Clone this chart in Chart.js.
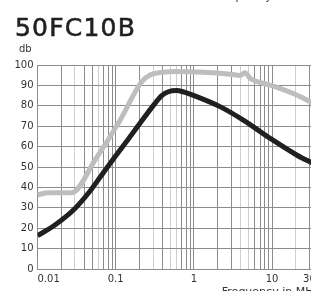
<!DOCTYPE html>
<html>
<head>
<meta charset="utf-8">
<script src="https://cdn.jsdelivr.net/npm/chart.js@4/dist/chart.umd.min.js"></script>
<style>
  html, body { margin: 0; padding: 0; background: #fff; }
  #wrap { position: relative; width: 311px; height: 291px; overflow: hidden; background: #fff; }
  #c { position: absolute; left: 0; top: 0; }
  .txt { position: absolute; font-family: "DejaVu Sans", sans-serif; color: #231f20; white-space: nowrap; }
  #title { left: 15px; top: 15px; font-size: 25px; line-height: 25px; letter-spacing: 1.2px; -webkit-text-stroke: 0.6px #231f20; }
  #unit { left: 19px; top: 44px; font-size: 10px; line-height: 10px; color: #333; }
  #prev { left: 215px; top: -9px; font-size: 11px; line-height: 11px; color: #333; }
</style>
</head>
<body>
<div id="wrap">
  <canvas id="c" width="330" height="300"></canvas>
  <div class="txt" id="prev">Frequency in MHz</div>
  <div class="txt" id="title">50FC10B</div>
  <div class="txt" id="unit">db</div>
</div>
<script>
// ---- data ----
const freqBlack = [0.01, 0.0167, 0.0302, 0.0446, 0.0662, 0.098, 0.1765, 0.318, 0.387, 0.471, 0.60, 0.75, 1.086, 2.157, 4.28, 9.40, 20.6, 33];
const valBlack  = [16.3, 21.6, 29.7, 37.1, 46.1, 55.0, 68.1, 81.2, 85.0, 86.9, 87.5, 86.7, 84.5, 79.6, 73.0, 64.1, 55.9, 51.8];

const freqGray = [0.01, 0.0138, 0.0274, 0.0543, 0.108, 0.2147, 0.275, 0.47, 0.60, 1.32, 3.5, 3.89, 4.50, 5.22, 9.4, 20.6, 33];
const valGray  = [36.3, 37.4, 37.4, 53.4, 71.4, 91.8, 95.1, 96.7, 96.8, 96.4, 95.1, 94.8, 96.2, 93.5, 90.2, 85.3, 81.4];

const xTickValues = [0.01,0.02,0.03,0.04,0.05,0.06,0.07,0.08,0.09,
                     0.1,0.2,0.3,0.4,0.5,0.6,0.7,0.8,0.9,
                     1,2,3,4,5,6,7,8,9,
                     10,20,30,40];
const xLabelValues = [0.01, 0.1, 1, 10, 30];
const xLabelTexts  = ['0.01', '0.1', '1', '10', '30'];
const yTickStep = 10;

// ---- styles ----
const lightGrid = [0.03, 0.06, 0.3, 0.5, 0.6, 4, 5, 20];
const FONT = '"DejaVu Sans", sans-serif';
const near = (a, b) => Math.abs(a - b) / Math.abs(b) < 1e-6;

new Chart(document.getElementById('c'), {
  type: 'line',
  data: {
    datasets: [
      {
        data: freqBlack.map((f, i) => ({ x: f, y: valBlack[i] })),
        borderColor: '#231f20', borderWidth: 5, pointRadius: 0,
        cubicInterpolationMode: 'monotone', fill: false, borderCapStyle: 'butt'
      },
      {
        data: freqGray.map((f, i) => ({ x: f, y: valGray[i] })),
        borderColor: '#bcbec0', borderWidth: 5, pointRadius: 0,
        cubicInterpolationMode: 'monotone', fill: false, borderCapStyle: 'butt'
      }
    ]
  },
  options: {
    responsive: false,
    devicePixelRatio: 1,
    animation: false,
    layout: { padding: { top: 65, left: 0, right: 10.8, bottom: 0 } },
    plugins: { legend: { display: false }, tooltip: { enabled: false } },
    scales: {
      x: {
        type: 'logarithmic',
        min: 0.01, max: 40,
        afterBuildTicks: s => { s.ticks = xTickValues.map(v => ({ value: v })); },
        afterFit: s => { s.height = 31; },
        ticks: {
          autoSkip: false, maxRotation: 0, minRotation: 0, align: 'inner', padding: 4,
          color: '#333', font: { family: FONT, size: 10 },
          callback: (v) => {
            const k = xLabelValues.findIndex(m => near(v, m));
            return k >= 0 ? xLabelTexts[k] : '';
          }
        },
        grid: {
          drawTicks: false,
          color: ctx => (ctx.tick && lightGrid.some(m => near(ctx.tick.value, m))) ? '#cfcfcf' : '#8c8c8c',
          lineWidth: 1
        },
        border: { color: '#8c8c8c' },
        title: {
          display: true, text: 'Frequency in MHz', align: 'end', color: '#333',
          font: { family: FONT, size: 11 }, padding: { top: 0, bottom: 1 }
        }
      },
      y: {
        min: 0, max: 100,
        afterFit: s => { s.width = 37.5; },
        ticks: { stepSize: yTickStep, padding: 4, color: '#333', font: { family: FONT, size: 10 } },
        grid: { drawTicks: false, color: '#8c8c8c', lineWidth: 1 },
        border: { color: '#8c8c8c' }
      }
    }
  }
});
</script>
</body>
</html>
